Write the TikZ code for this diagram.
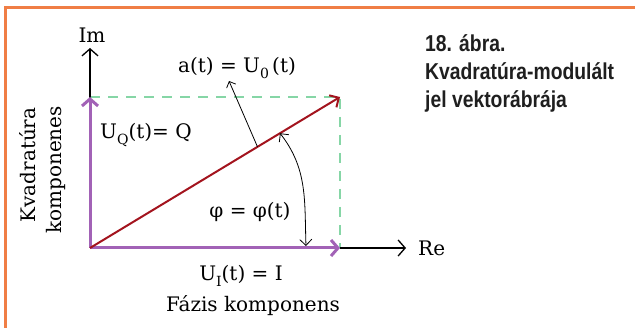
\documentclass[tikz,border=0pt]{standalone}
\usepackage{fontspec}
\setmainfont{DejaVu Serif}
\newfontfamily\captfont[FakeStretch=0.84]{Liberation Sans}
\usepackage{xcolor}
\usetikzlibrary{arrows.meta,positioning}

\definecolor{frameorange}{HTML}{F07E45}
\definecolor{comppurple}{HTML}{A262B6}
\definecolor{vecred}{HTML}{A3141E}
\definecolor{guidegreen}{HTML}{86D6A6}

\newcommand{\lowidx}[1]{\raisebox{-.5ex}{\fontsize{14}{14}\selectfont #1}}

\begin{document}
\begin{tikzpicture}[
    x=1pt, y=-1pt,
    lbl/.style={inner sep=0pt, font=\fontsize{20}{24}\selectfont},
    axis/.style={-{Straight Barb[length=7pt,width=16pt]}, line width=1.3pt},
    comp/.style={-{Straight Barb[length=7pt,width=16pt]}, draw=comppurple, line width=3pt},
    vec/.style={-{Straight Barb[length=7pt,width=14pt]}, draw=vecred, line width=2pt},
    guide/.style={draw=guidegreen, line width=1.5pt, dash pattern=on 10pt off 8pt},
    pointer/.style={-{Straight Barb[length=5pt,width=10pt]}, line width=0.8pt},
    angarc/.style={{Straight Barb[length=6pt,width=12pt]}-{Straight Barb[length=6pt,width=12pt]}, line width=0.8pt}
]
    \useasboundingbox (0,0) rectangle (635,328);
    \draw[frameorange, line width=3pt] (635,8) -- (5,8) -- (5,328);

    % points of the diagram
    \coordinate (O) at (90,248);
    \coordinate (Q) at (90,97);
    \coordinate (I) at (340,248);
    \coordinate (P) at (340,97);
    \coordinate (imtip) at (90,48);
    \coordinate (retip) at (406,248);

    % guides
    \draw[guide] (Q) -- (P) -- (I);

    % axes
    \draw[axis] (O) -- (imtip);
    \draw[axis] (I) -- (retip);
    \node[lbl, above=5pt of imtip, xshift=2pt] (im) {Im};
    \node[lbl, right=12pt of retip] (re) {Re};

    % components and vector
    \draw[comp] (O) -- (Q);
    \draw[comp] (O) -- (I);
    \draw[vec] (O) -- (P) coordinate[pos=0.67] (ptr) coordinate[pos=0.76] (angstart);

    % labels
    \node[lbl] (ampl) at (237,68) {a(t) = U\lowidx{0}\,(t)};
    \node[lbl, anchor=west] (uq) at (100,135) {U\lowidx{Q}(t)= Q};
    \node[lbl] (phi) at (250,212) {φ = φ(t)};
    \node[lbl] (ui) at (241,276) {U\lowidx{I}(t) = I};
    \node[lbl] (phase) at (253,306) {Fázis komponens};
    \node[lbl, rotate=90] (quad1) at (28,165) {Kvadratúra};
    \node[lbl, rotate=90] (quad2) at (56,170) {komponenes};

    \coordinate (angend) at (306,246);
    \coordinate (ptrtip) at (229,81);
    \draw[pointer] (ptr) -- (ptrtip);
    \draw[angarc] (angstart) to[out=-52,in=92] (angend);

    % caption
    \node[anchor=north west, inner sep=0pt, align=left, text=black!88,
          font=\captfont\bfseries\fontsize{23}{28}\selectfont] (capt) at (425,34)
        {18. ábra.\\Kvadratúra-modulált\\jel vektorábrája};
\end{tikzpicture}
\end{document}
